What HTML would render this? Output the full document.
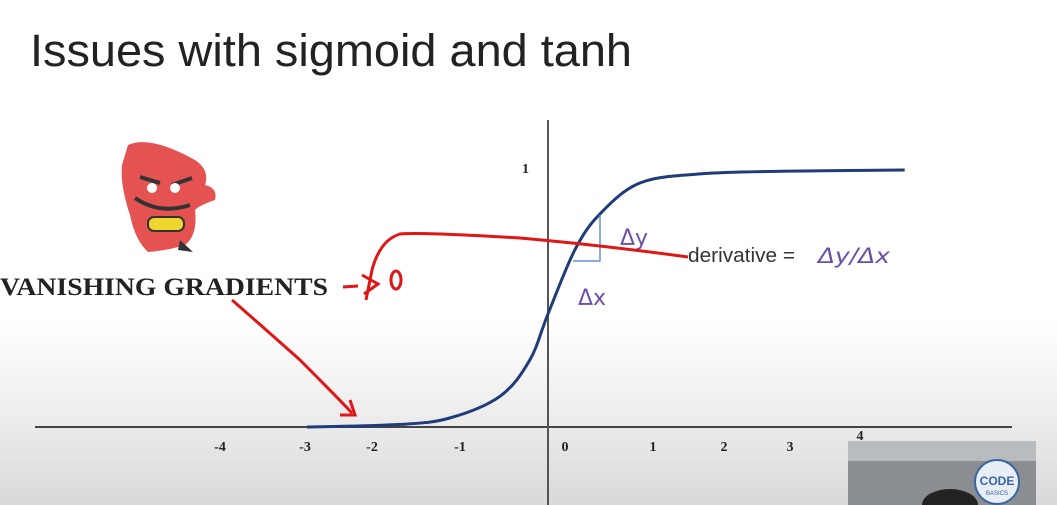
<!DOCTYPE html>
<html><head><meta charset="utf-8"><style>
body{margin:0;width:1057px;height:505px;overflow:hidden;background:#fff;font-family:"Liberation Sans",sans-serif}
#bg{position:absolute;left:0;top:0;width:1057px;height:505px;background:linear-gradient(to bottom,#fff 0,#fff 320px,#ececec 420px,#d9d9d9 505px)}
</style></head><body>
<div id="bg"></div>
<svg id="c" width="1057" height="505" style="position:absolute;left:0;top:0">
<text x="30" y="66" font-size="45" fill="#222" font-family="Liberation Sans" textLength="602" lengthAdjust="spacingAndGlyphs">Issues with sigmoid and tanh</text>
<g>
<path d="M128 145 Q150 135 195 160 Q210 170 205 185 Q218 188 215 200 Q200 205 195 210 Q198 235 185 245 Q170 250 148 252 Q135 240 130 215 Q120 185 122 165 Z" fill="#e55252"/>
<path d="M140 177 L160 183 M172 185 L192 178" stroke="#333" stroke-width="4"/>
<circle cx="152" cy="188" r="5" fill="#fff"/><circle cx="175" cy="188" r="5" fill="#fff"/>
<path d="M135 198 Q160 215 190 205" stroke="#333" stroke-width="4" fill="none"/>
<rect x="148" y="217" width="36" height="14" rx="6" fill="#f1d630" stroke="#333" stroke-width="2"/>
<path d="M180 240 L193 252 L178 250 Z" fill="#333"/>
</g>
<text x="0" y="295" font-size="25" font-weight="bold" fill="#222" font-family="Liberation Serif" textLength="328" lengthAdjust="spacingAndGlyphs">VANISHING GRADIENTS</text>
<line x1="35" y1="427" x2="1012" y2="427" stroke="#444" stroke-width="2"/>
<line x1="548" y1="120" x2="548" y2="505" stroke="#555" stroke-width="2"/>
<text x="522" y="173" font-size="14" font-weight="bold" font-family="Liberation Serif" fill="#222">1</text>
<g id="ticks"></g>
<path id="curve" fill="none" stroke="#1f3b7a" stroke-width="3"/>
<g>
<path d="M573 261 L600 261 L600 215" stroke="#6a8fd0" stroke-width="1.5" fill="none"/>
<text x="620" y="245" font-size="22" fill="#6a4fa5" font-family="DejaVu Sans">Δy</text>
<text x="578" y="305" font-size="22" fill="#6a4fa5" font-family="DejaVu Sans">Δx</text>
<text x="688" y="262" font-size="20" fill="#333" textLength="107" lengthAdjust="spacingAndGlyphs">derivative =</text>
<text x="818" y="263" font-size="21" fill="#6a4fa5" font-family="DejaVu Sans" font-style="italic" textLength="72" lengthAdjust="spacingAndGlyphs">Δy/Δx</text>
</g>
<g stroke="#e01515" stroke-width="3" fill="none">
<path d="M688 257 Q600 245 520 238 Q420 232 400 234 Q380 240 372 270 Q368 290 366 300"/>
<path d="M343 287 L358 286 M362 275 L378 284 L364 294"/>
<ellipse cx="396" cy="280" rx="5" ry="9"/>
<path d="M232 300 Q255 320 300 360 Q335 395 352 413"/>
<path d="M350 400 L355 415 L340 415"/>
</g>
<g>
<rect x="848" y="441" width="188" height="64" fill="#8a8d92"/>
<rect x="848" y="441" width="188" height="20" fill="#b9bcbf"/>
<circle cx="997" cy="482" r="22" fill="#e8eef5" stroke="#3a65a0" stroke-width="2"/>
<text x="997" y="485" font-size="12" font-weight="bold" fill="#3a65a0" text-anchor="middle">CODE</text>
<text x="997" y="495" font-size="6" fill="#3a65a0" text-anchor="middle">BASICS</text>
<ellipse cx="950" cy="505" rx="28" ry="16" fill="#222"/>
</g>
</svg>
<script>
const tickValues=[-4,-3,-2,-1,0,1,2,3,4];
const tickLabelX=[220,305,372,460,565,653,724,790,860];
const curveX=[-2.77,-1.7,-1.13,-0.55,-0.21,0,0.31,0.6,1.06,1.75,2.67,4.1];
const curveY=[0,0.01,0.035,0.12,0.26,0.44,0.69,0.83,0.95,0.985,0.995,1.0];
const sx=u=>548+u*87, sy=v=>427-v*257;
const tg=document.getElementById('ticks');
tickValues.forEach((v,i)=>{const t=document.createElementNS('http://www.w3.org/2000/svg','text');
t.setAttribute('x',tickLabelX[i]);t.setAttribute('y',v===4?440:451);t.setAttribute('font-size','14');t.setAttribute('font-weight','bold');
t.setAttribute('font-family','Liberation Serif');t.setAttribute('fill','#222');t.setAttribute('text-anchor','middle');


t.textContent=v;tg.appendChild(t);});
const P=curveX.map((x,i)=>[sx(x),sy(curveY[i])]);
let d='M'+P[0][0]+' '+P[0][1];
for(let i=0;i<P.length-1;i++){const p0=P[Math.max(i-1,0)],p1=P[i],p2=P[i+1],p3=P[Math.min(i+2,P.length-1)];
d+=` C${p1[0]+(p2[0]-p0[0])/6} ${p1[1]+(p2[1]-p0[1])/6} ${p2[0]-(p3[0]-p1[0])/6} ${p2[1]-(p3[1]-p1[1])/6} ${p2[0]} ${p2[1]}`;}
document.getElementById('curve').setAttribute('d',d);
</script>
</body></html>
